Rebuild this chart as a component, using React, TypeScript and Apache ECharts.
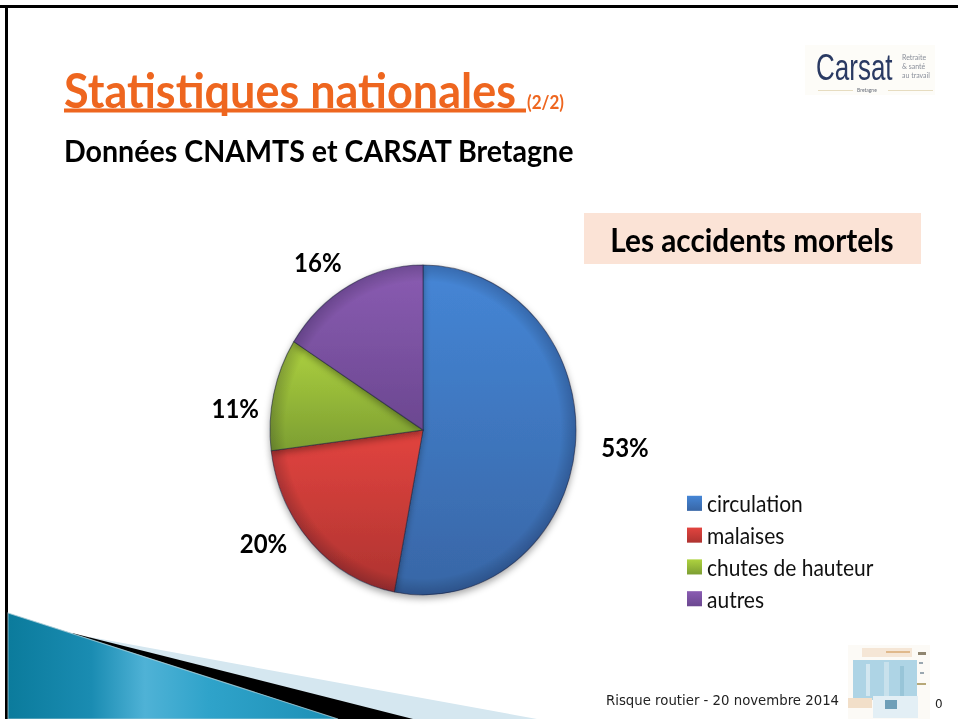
import React, { useEffect, useRef } from "react";
import * as echarts from "echarts";

const categories = ["circulation", "malaises", "chutes de hauteur", "autres"];
const values = [53, 20, 11, 16];
const topColors = ["#4586d6", "#e2443f", "#aed23f", "#8a5cb2"];
const bottomColors = ["#3866a6", "#ae3330", "#7c9e32", "#6b4790"];
const labelNudges = [[7, 0], [-9, -10], [4, 16], [4, -10]];

const S = 1.078; // the slide is stretched vertically
const Y = (y: number) => y / S;

const wedge = (d: string, name: string) => {
  echarts.graphic.registerShape(name, echarts.graphic.extendPath(d, {}) as any);
};

export default function App() {
  const ref = useRef<HTMLDivElement>(null);
  useEffect(() => {
    document.body.style.margin = "0";
    document.body.style.background = "#fff";
    wedge(`M90 ${Y(637)} Q313 ${Y(678)} 537 ${Y(719)} L90 ${Y(719)} Z`, "wedgeLight");
    wedge(`M72 ${Y(633)} Q240 ${Y(675)} 413 ${Y(719)} L200 ${Y(719)} Z`, "wedgeBlack");
    wedge(`M8 ${Y(613)} Q172 ${Y(665)} 338 ${Y(719)} L8 ${Y(719)} Z`, "wedgeBlue");

    const chart = echarts.init(ref.current!, undefined, { renderer: "svg" });
    const txt = (text: string, x: number, y: number, size: number, extra: any = {}, el: any = {}) => ({
      type: "text",
      z: 20,
      silent: true,
      x,
      y: Y(y),
      ...el,
      style: {
        text,
        fontFamily: "Lato",
        fontSize: size,
        fill: "#000",
        verticalAlign: "middle",
        ...extra,
      },
    });
    const box = (x: number, y: number, w: number, h: number, fill: string, z = 5) => ({
      type: "rect",
      z,
      silent: true,
      shape: { x, y: Y(y), width: w, height: h / S },
      style: { fill },
    });
    chart.setOption({
      animation: false,
      backgroundColor: "#fff",
      legend: {
        orient: "vertical",
        left: 687,
        top: Y(492),
        padding: 0,
        itemWidth: 15,
        itemHeight: 14,
        itemGap: 8.5,
        icon: "rect",
        data: categories,
        itemStyle: { borderWidth: 0, shadowBlur: 0, shadowOffsetY: 0 },
        textStyle: { fontFamily: "Lato", fontSize: 21, color: "#111" },
      },
      series: [
        {
          type: "pie",
          center: [423, Y(430)],
          radius: [0, 153],
          startAngle: 90,
          clockwise: true,
          avoidLabelOverlap: false,
          label: {
            show: true,
            position: "outside",
            formatter: "{c}%",
            fontFamily: "Lato",
            fontWeight: "bold",
            fontSize: 24,
            color: "#000",
          },
          labelLine: { show: false, length: 14, length2: 0 },
          labelLayout: (p: any) => {
            const n = labelNudges[p.dataIndex];
            return { dx: n[0], dy: n[1] };
          },
          itemStyle: {
            borderColor: "rgba(30,35,60,0.55)",
            borderWidth: 1,
            shadowBlur: 7,
            shadowOffsetY: 3,
            shadowColor: "rgba(0,0,0,0.35)",
          },
          emphasis: { disabled: true },
          data: categories.map((name, i) => ({
            name,
            value: values[i],
            itemStyle: {
              color: new echarts.graphic.LinearGradient(0, 0, 0, 1, [
                { offset: 0, color: topColors[i] },
                { offset: 1, color: bottomColors[i] },
              ]),
            },
          })),
        },
      ],
      graphic: [
        // frame
        box(0, 5, 958, 3, "#000"),
        box(5, 5, 3, 714, "#000"),
        // pie rim
        {
          type: "circle",
          z: 10,
          silent: true,
          shape: { cx: 423, cy: Y(430), r: 153 },
          style: {
            fill: new echarts.graphic.RadialGradient(0.5, 0.5, 0.5, [
              { offset: 0, color: "rgba(0,0,0,0)" },
              { offset: 0.9, color: "rgba(0,0,0,0)" },
              { offset: 1, color: "rgba(0,0,30,0.2)" },
            ]),
          },
        },
        // decoration
        { type: "wedgeLight", z: 6, silent: true, style: { fill: "#d5e7f0" } },
        { type: "wedgeBlack", z: 7, silent: true, style: { fill: "#000" } },
        {
          type: "wedgeBlue",
          z: 8,
          silent: true,
          style: {
            stroke: "rgba(170,205,215,0.8)",
            lineWidth: 1,
            fill: new echarts.graphic.LinearGradient(8, 0, 342, 0, [
              { offset: 0, color: "#0b7b9c" },
              { offset: 0.25, color: "#1a8cb2" },
              { offset: 0.41, color: "#4fb2d6" },
              { offset: 0.6, color: "#2fa3ca" },
              { offset: 1, color: "#1c8fb5" },
            ], true),
          },
        },
        // titles
        txt("Statistiques nationales", 64, 89, 45, { fontWeight: "bold", fill: "#ee661f" }),
        box(64, 108.5, 462, 4, "#ee661f", 20),
        txt("(2/2)", 527, 102, 17, { fontWeight: "bold", fill: "#ee661f" }),
        txt("Données CNAMTS et CARSAT Bretagne", 64, 150, 28.6, { fontWeight: "bold" }),
        // callout
        box(584, 213, 337, 51, "#fbe3d6"),
        txt("Les accidents mortels", 752, 240, 29.8, { fontWeight: "bold", align: "center" }),
        // logo
        box(805, 45, 130, 50, "#fdfcf8"),
        txt("Carsat", 816, 67, 26, { fill: "#2a3a63", fontFamily: "Liberation Sans" }, { scaleY: 1.3 }),
        txt("Retraite", 902, 57, 7, { fill: "#8a8f9a" }),
        txt("& santé", 902, 66, 7, { fill: "#8a8f9a" }),
        txt("au travail", 902, 75, 7, { fill: "#8a8f9a" }),
        txt("Bretagne", 857, 90, 5, { fill: "#6a6f7a" }),
        box(818, 90, 35, 1, "#e6dcc0"),
        box(888, 90, 45, 1, "#e6dcc0"),
        // footer image
        box(848, 645, 82, 74, "#fcfaf6"),
        box(853, 660, 64, 40, "#aed4e5"),
        box(866, 664, 4, 32, "#d3e7f0"),
        box(884, 662, 5, 34, "#c8e1ec"),
        box(900, 666, 4, 30, "#98c5d8"),
        box(862, 648, 50, 9, "#f5e6d6"),
        box(886, 651, 24, 2, "#e0b98c"),
        box(848, 698, 24, 10, "#f2dfc9"),
        box(873, 696, 45, 22, "#e3eff5"),
        box(885, 700, 12, 9, "#6f9fb8"),
        box(918, 652, 8, 3, "#8f8570"),
        box(919, 662, 4, 2, "#9aa7b0"),
        box(920, 672, 4, 2, "#9aa7b0"),
        box(917, 683, 9, 2, "#b7a878"),
        txt("Risque routier - 20 novembre 2014", 606, 700, 13.3, { fontFamily: "DejaVu Sans", fill: "#222" }),
        txt("0", 935, 703, 12, { fontFamily: "DejaVu Sans", fill: "#222" }),
      ],
    });
    return () => chart.dispose();
  }, []);
  return (
    <div
      ref={ref}
      style={{
        position: "absolute",
        left: 0,
        top: 0,
        width: 958,
        height: 719 / S,
        transform: `scaleY(${S})`,
        transformOrigin: "0 0",
      }}
    />
  );
}
